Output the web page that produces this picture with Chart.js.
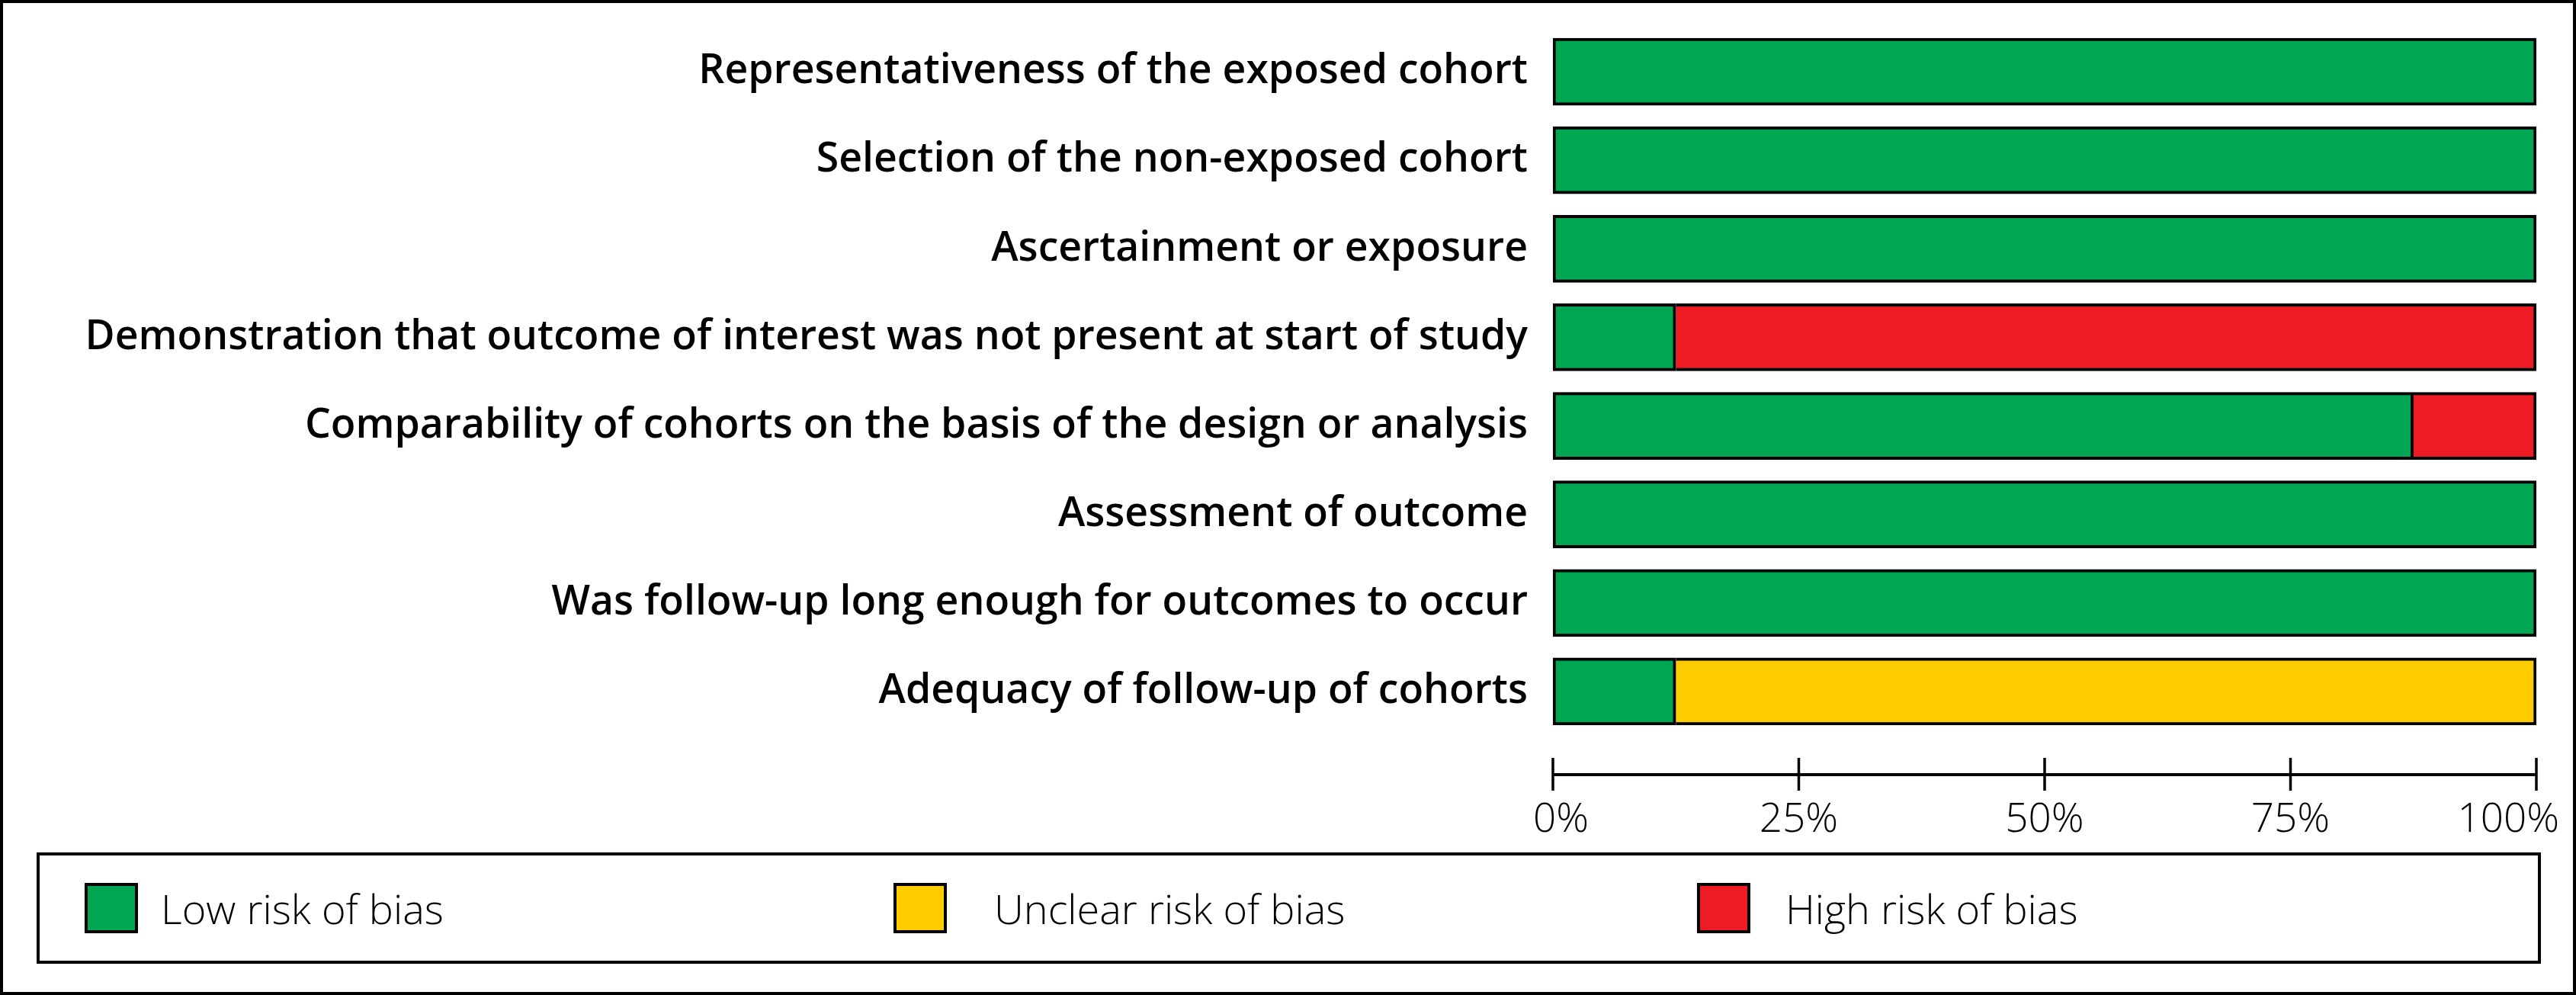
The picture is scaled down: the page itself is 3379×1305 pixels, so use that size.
<!DOCTYPE html>
<html lang="en">
<head>
<meta charset="UTF-8">
<title>Risk of bias</title>
<script src="https://cdn.jsdelivr.net/npm/chart.js"></script>
<style>
    html, body { margin: 0; padding: 0; background: #fff; }

    .frame {
        position: relative;
        width: 3379px;
        height: 1305px;
        overflow: hidden;
        font-family: 'Open Sans', sans-serif;
    }

    /* outer black border, drawn over everything */
    .frame::after {
        content: "";
        position: absolute;
        inset: 0;
        border: 4px solid #000;
        pointer-events: none;
    }

    #chartBox {
        position: absolute;
        left: 0; top: 0;
        width: 3379px; height: 1305px;
    }

    .legend {
        position: absolute;
        left: 48px; top: 1118px;
        width: 3285px; height: 146px;
        box-sizing: border-box;
        border: 4px solid #000;
        padding-left: 59px;
        display: grid;
        grid-template-columns: 1061px 1054px 1000px;
        align-items: center;
    }
    .legend .item { display: flex; align-items: center; }
    .legend .swatch {
        width: 70px; height: 66px;
        box-sizing: border-box;
        border: 4px solid #000;
    }
    .legend .label {
        font-weight: 300;
        font-size: 54px;
        color: #000;
        margin-left: 30px;
        line-height: 1;
    }
    .legend .item:nth-child(2) .label { margin-left: 62px; }
    .legend .item:nth-child(3) .label { margin-left: 46px; }
</style>
</head>
<body>

<div class="frame">
    <div id="chartBox"><canvas id="robChart" width="3379" height="1305"></canvas></div>
    <div class="legend" id="legend"></div>
</div>

<script>
    const categories = [
        'Representativeness of the exposed cohort',
        'Selection of the non-exposed cohort',
        'Ascertainment or exposure',
        'Demonstration that outcome of interest was not present at start of study',
        'Comparability of cohorts on the basis of the design or analysis',
        'Assessment of outcome',
        'Was follow-up long enough for outcomes to occur',
        'Adequacy of follow-up of cohorts'
    ];

    // percent of studies per judgement
    const lowRisk     = [100, 100, 100, 12.5, 87.5, 100, 100, 12.5];
    const unclearRisk = [0, 0, 0, 0, 0, 0, 0, 87.5];
    const highRisk    = [0, 0, 0, 87.5, 12.5, 0, 0, 0];

    const seriesNames  = ['Low risk of bias', 'Unclear risk of bias', 'High risk of bias'];
    const seriesColors = ['#00a651', '#ffcc00', '#ed1c24'];
    const xTicks = [0, 25, 50, 75, 100];

    // axis below the bars: line, ticks both sides, labels kept inside the frame
    const percentAxis = {
        id: 'percentAxis',
        afterDraw(chart) {
            const ctx = chart.ctx;
            const x = chart.scales.x;
            const yLine = chart.chartArea.bottom + 51;
            ctx.save();
            ctx.strokeStyle = '#000';
            ctx.lineWidth = 4;
            ctx.beginPath();
            ctx.moveTo(x.getPixelForValue(xTicks[0]), yLine);
            ctx.lineTo(x.getPixelForValue(xTicks[xTicks.length - 1]), yLine);
            ctx.stroke();

            ctx.lineWidth = 3.5;
            ctx.font = '300 53px "Open Sans"';
            ctx.fillStyle = '#000';
            ctx.textBaseline = 'alphabetic';
            ctx.textAlign = 'left';
            xTicks.forEach(v => {
                const px = x.getPixelForValue(v);
                ctx.beginPath();
                ctx.moveTo(px, yLine - 22);
                ctx.lineTo(px, yLine + 21);
                ctx.stroke();

                const txt = v + '%';
                const w = ctx.measureText(txt).width;
                let left = px - w / 2;
                left = Math.max(left, x.left - 26);
                left = Math.min(left, x.right + 30 - w);
                ctx.fillText(txt, left, yLine + 75);
            });
            ctx.restore();
        }
    };

    const ds = (label, data, color, skip) => ({
        label: label,
        data: data,
        backgroundColor: color,
        borderColor: '#000',
        borderWidth: 4,
        borderSkipped: skip,
        barThickness: 88
    });

    const chart = new Chart(document.getElementById('robChart'), {
        type: 'bar',
        data: {
            labels: categories,
            datasets: [
                ds(seriesNames[0], lowRisk, seriesColors[0], false),
                ds(seriesNames[1], unclearRisk, seriesColors[1], 'left'),
                ds(seriesNames[2], highRisk, seriesColors[2], 'left')
            ]
        },
        options: {
            indexAxis: 'y',
            responsive: false,
            devicePixelRatio: 1,
            animation: false,
            layout: { padding: { top: 36, bottom: 340, right: 52, left: 0 } },
            plugins: {
                legend: { display: false },
                tooltip: { enabled: false }
            },
            scales: {
                x: {
                    display: false,
                    stacked: true,
                    min: 0,
                    max: 100
                },
                y: {
                    stacked: true,
                    grid: { display: false, drawTicks: false },
                    border: { display: false },
                    ticks: {
                        color: '#000',
                        padding: 33,
                        font: { family: 'Open Sans', weight: 600, size: 53.5 }
                    },
                    afterFit(scale) {
                        scale.width = 2037;
                        scale.paddingTop = 0;
                        scale.paddingBottom = 0;
                    }
                }
            }
        },
        plugins: [percentAxis]
    });

    // legend built from the same series arrays
    const legend = document.getElementById('legend');
    seriesNames.forEach((name, i) => {
        const item = document.createElement('div');
        item.className = 'item';
        item.innerHTML = '<div class="swatch" style="background:' + seriesColors[i] + '"></div>' +
                         '<span class="label">' + name + '</span>';
        legend.appendChild(item);
    });
</script>
</body>
</html>
